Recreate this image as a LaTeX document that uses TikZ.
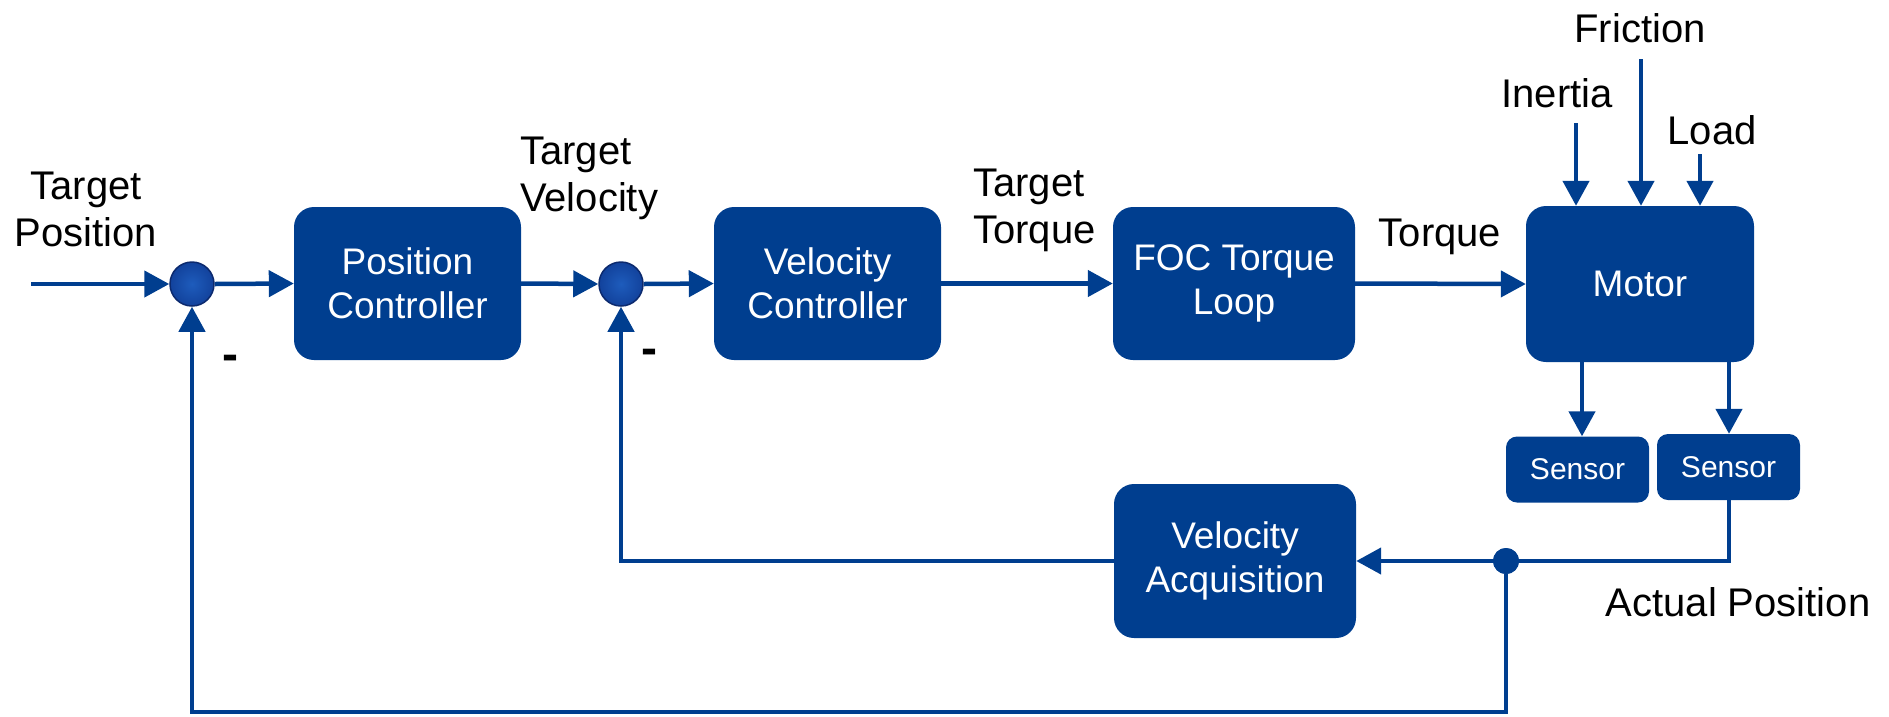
\documentclass[tikz,border=0pt]{standalone}
\usepackage{fontspec}
\setmainfont{Liberation Sans}
\usetikzlibrary{arrows.meta,calc}
\definecolor{dblue}{RGB}{0,62,143}
\definecolor{suminner}{RGB}{30,92,188}
\definecolor{sumouter}{RGB}{18,66,156}
\definecolor{sumedge}{RGB}{12,42,110}
\begin{document}
\begin{tikzpicture}[x=1pt,y=-1pt,
  blk/.style={fill=dblue, rounded corners=20pt, text=white, align=center,
    font=\fontsize{37}{44}\selectfont, inner sep=0pt},
  senbox/.style={fill=dblue, rounded corners=11pt, text=white,
    font=\fontsize{30}{36}\selectfont, inner sep=0pt, minimum width=143pt, minimum height=66pt},
  lbl/.style={text=black, font=\fontsize{40}{47}\selectfont, inner sep=0pt},
  minus/.style={text=black, font=\fontsize{48}{50}\bfseries, inner sep=0pt},
  sumnode/.style={circle, minimum size=44pt, inner sep=0pt, draw=sumedge, line width=1.5pt,
    inner color=suminner, outer color=sumouter},
  conn/.style={draw=dblue, line width=4.5pt},
  arr/.style={conn, -{Triangle[length=25pt,width=26pt]}}
]
\useasboundingbox (0,0) rectangle (1889,716);

% blocks
\node[sumnode] (s1) at (192,284) {};
\node[blk, minimum width=227pt, minimum height=153pt] (pc) at (407.5,283.5) {Position\\Controller};
\node[sumnode] (s2) at (621,284) {};
\node[blk, minimum width=227pt, minimum height=153pt] (vc) at (827.5,283.5) {Velocity\\Controller};
\node[blk, minimum width=242pt, minimum height=153pt] (foc) at (1234,283.5) {FOC Torque\\Loop};
\node[blk, minimum width=228pt, minimum height=156pt] (motor) at (1640,284) {Motor};
\node[senbox] (sen1) at (1577.5,469.5) {Sensor};
\node[senbox] (sen2) at (1728.5,467) {Sensor};
\node[blk, minimum width=242pt, minimum height=154pt] (va) at (1235,561) {Velocity\\Acquisition};
\node[circle, fill=dblue, minimum size=26pt, inner sep=0pt] (dot) at (1506,561) {};

% labels
\node[lbl, align=center] (lTP) at (86,209) {Target\\Position};
\node[lbl, align=left, anchor=west] (lTV) at (520,178) {Target\\Velocity};
\node[lbl, align=left, anchor=west] (lTT) at (973,210) {Target\\Torque};
\node[lbl] (lT) at (1440,237) {Torque};
\node[lbl] (lI) at (1557,93) {Inertia};
\node[lbl] (lF) at (1640,28) {Friction};
\node[lbl] (lL) at (1712,130) {Load};
\node[lbl] (lAP) at (1738,602) {Actual Position};
\node[minus] (m1) at (230,363) {-};
\node[minus] (m2) at (649,357) {-};

% helper coordinates
\coordinate (in) at (31,284);
\coordinate (inI) at (1576,123);
\coordinate (inF) at (1641,59);
\coordinate (inL) at (1700,154);
\coordinate (x1) at (1582,0);
\coordinate (x2) at (1729,0);
\coordinate (bot) at (0,712);

% forward path
\draw[arr] (in) -- (s1.west);
\draw[arr] (s1.east) -- (pc.west);
\draw[arr] (pc.east) -- (s2.west);
\draw[arr] (s2.east) -- (vc.west);
\draw[arr] (vc.east) -- (foc.west);
\draw[arr] (foc.east) -- (motor.west);

% disturbances
\draw[arr] (inI) -- (inI |- motor.north);
\draw[arr] (inF) -- (inF |- motor.north);
\draw[arr] (inL) -- (inL |- motor.north);

% motor to sensors
\draw[arr] (motor.south -| x1) -- (sen1.north -| x1);
\draw[arr] (motor.south -| x2) -- (sen2.north -| x2);

% feedback
\draw[arr] (sen2.south -| x2) -- (x2 |- dot) -- (va.east);
\draw[arr] (va.west) -| (s2.south);
\draw[arr] (dot) -- (dot |- bot) -| (s1.south);
\node[circle, fill=dblue, minimum size=26pt, inner sep=0pt] at (dot) {};
\end{tikzpicture}
\end{document}
